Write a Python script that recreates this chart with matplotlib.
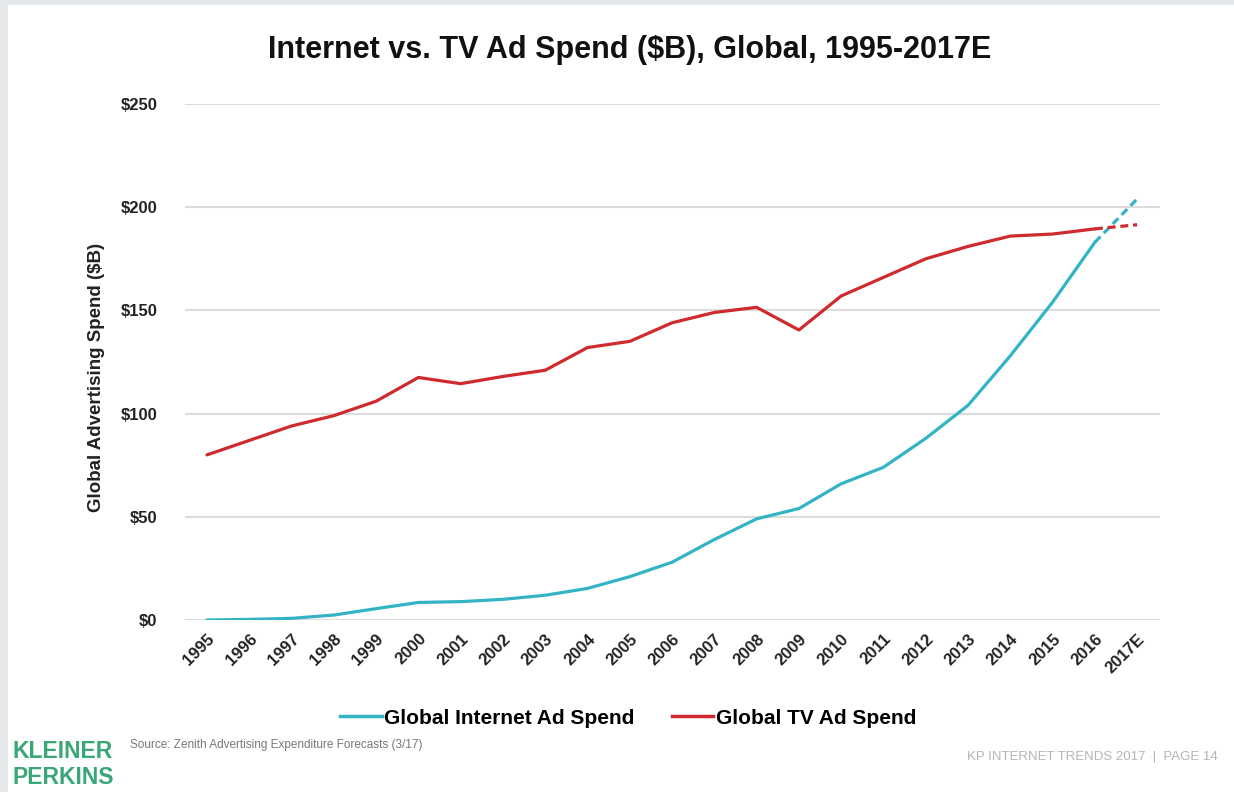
import matplotlib
matplotlib.use("Agg")
import matplotlib.pyplot as plt
from matplotlib.patches import Rectangle
from matplotlib.lines import Line2D

years = ["1995", "1996", "1997", "1998", "1999", "2000", "2001", "2002", "2003",
         "2004", "2005", "2006", "2007", "2008", "2009", "2010", "2011", "2012",
         "2013", "2014", "2015", "2016", "2017E"]
internet_spend = [0, 0.3, 0.8, 2.4, 5.5, 8.5, 8.9, 10, 12, 15.3, 21, 28, 39, 49,
                  54, 66, 74, 88, 104, 128, 154, 183, 204]
tv_spend = [80, 87, 94, 99, 106, 117.5, 114.5, 118, 121, 132, 135, 144, 149,
            151.5, 140.5, 157, 166, 175, 181, 186, 187, 189.5, 191.5]
y_ticks = [0, 50, 100, 150, 200, 250]
y_tick_labels = ["$0", "$50", "$100", "$150", "$200", "$250"]

title = "Internet vs. TV Ad Spend ($B), Global, 1995-2017E"
y_label = "Global Advertising Spend ($B)"
series_names = ["Global Internet Ad Spend", "Global TV Ad Spend"]

plt.rcParams['font.family'] = ['Liberation Sans', 'DejaVu Sans']

C_NET = "#33b4c5"
C_TV = "#cf2a2e"

W, H = 1234, 792
fig = plt.figure(figsize=(W / 100, H / 100), dpi=100)
fig.patch.set_facecolor("#e5e8eb")
fig.patches.append(Rectangle((8 / W, 0), 1 - 8 / W, 1 - 5 / H, transform=fig.transFigure,
                             facecolor="white", edgecolor="none", zorder=-5))

ax = fig.add_axes([185 / W, 1 - 620 / H, 975 / W, 516 / H])
ax.set_facecolor("none")
ax.set_zorder(2)
x = list(range(len(years)))
n_solid = len(years) - 1  # solid through 2016, dashed to estimate

ax.plot(x[:n_solid], internet_spend[:n_solid], color=C_NET, lw=2.3, solid_capstyle="round", zorder=3)
ax.plot(x[n_solid - 1:], internet_spend[n_solid - 1:], color=C_NET, lw=2.3, ls=(0, (2.5, 1.5)), zorder=3)
ax.plot(x[:n_solid], tv_spend[:n_solid], color=C_TV, lw=2.3, solid_capstyle="round", zorder=3)
ax.plot(x[n_solid - 1:], tv_spend[n_solid - 1:], color=C_TV, lw=2.3, ls=(0, (2.5, 1.5)), zorder=3)

ax.set_xlim(-0.52, 22.54)
ax.set_ylim(0, 250)
ax.set_yticks(y_ticks)
ax.set_yticklabels(y_tick_labels, fontsize=12, fontweight="bold", color="#222222")
ax.set_xticks(x)
ax.set_xticklabels(years, rotation=45, ha="right", va="top", rotation_mode="anchor",
                   fontsize=12, fontweight="bold", color="#222222")
ax.tick_params(axis="both", length=0)
ax.tick_params(axis="y", pad=20)
ax.tick_params(axis="x", pad=8)
for s in ax.spines.values():
    s.set_visible(False)
ax.grid(axis="y", color="#dcdcdc", lw=1.5)
ax.set_axisbelow(True)
ax.set_ylabel(y_label, fontsize=13.5, fontweight="bold", color="#222222")
ax.yaxis.set_label_coords(-0.082, 0.471)

fig.text(630 / W, 1 - 50 / H, title, ha="center", va="center", fontsize=22, fontweight="bold",
         color="#111111")

handles = [Line2D([], [], color=C_NET, lw=2.5), Line2D([], [], color=C_TV, lw=2.5)]
fig.legend(handles, series_names, loc="center", bbox_to_anchor=(628 / W, 1 - 718 / H), ncol=2,
           frameon=False, prop={"weight": "bold", "size": 15}, handlelength=2.0,
           handletextpad=0.1, columnspacing=1.8)

fig.text(130 / W, 1 - 745 / H, "Source: Zenith Advertising Expenditure Forecasts (3/17)",
         fontsize=8.5, color="#777777", va="center")
fig.text(1218 / W, 1 - 757 / H, "KP INTERNET TRENDS 2017  |  PAGE 14",
         fontsize=9.5, color="#b5b5b5", va="center", ha="right")
fig.text(12 / W, 1 - 752 / H, "KLEINER", fontsize=16.5, fontweight="bold", color="#3aa776",
         va="center", ha="left")
fig.text(12 / W, 1 - 777 / H, "PERKINS", fontsize=16.5, fontweight="bold", color="#3aa776",
         va="center", ha="left")

fig.savefig("out.png", dpi=100)
